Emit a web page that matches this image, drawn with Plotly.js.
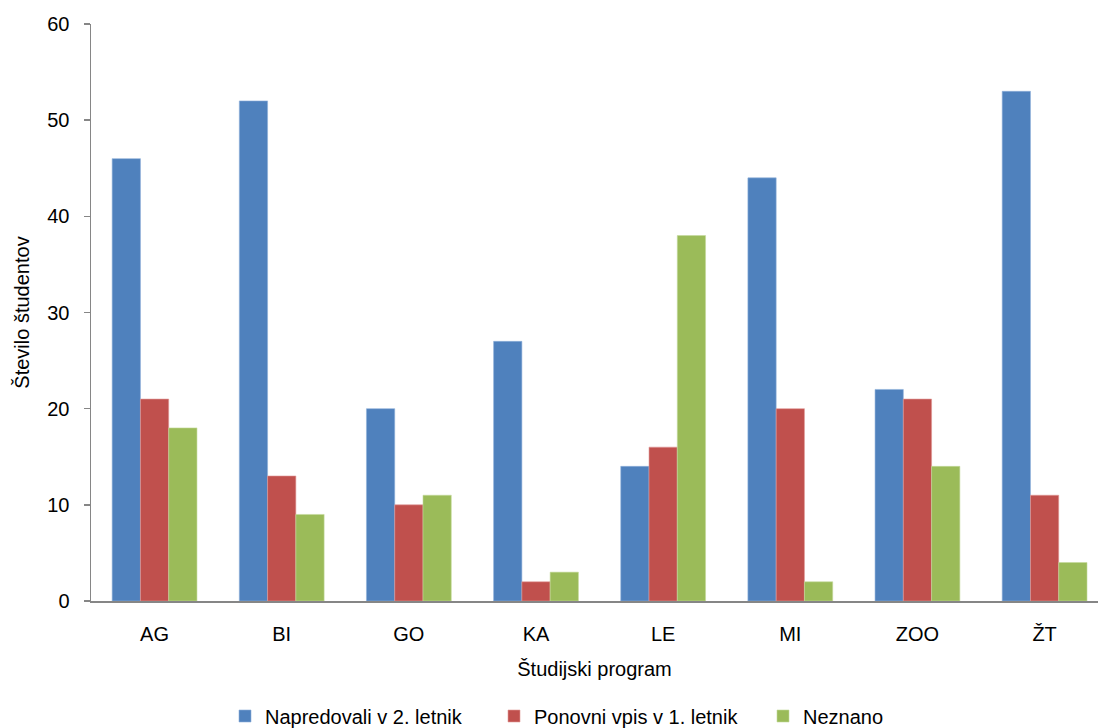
<!DOCTYPE html>
<html>
<head>
<meta charset="utf-8">
<script src="https://cdn.plot.ly/plotly-3.0.1.min.js"></script>
<style>html,body{margin:0;padding:0;background:#fff;}#chart{width:1098px;height:728px;}</style>
</head>
<body>
<div id="chart"></div>
<script>
const categories = ["AG", "BI", "GO", "KA", "LE", "MI", "ZOO", "ŽT"];
const seriesNames = ["Napredovali v 2. letnik", "Ponovni vpis v 1. letnik", "Neznano"];
const napredovali = [46, 52, 20, 27, 14, 44, 22, 53];
const ponovniVpis = [21, 13, 10, 2, 16, 20, 21, 11];
const neznano = [18, 9, 11, 3, 38, 2, 14, 4];
const yTicks = [0, 10, 20, 30, 40, 50, 60];

const colors = ["#4F81BD", "#C0504D", "#9BBB59"];
const edge = ["#8FB0DA", "#E09A98", "#C5DA9C"];
const values = [napredovali, ponovniVpis, neznano];

const font = "Liberation Sans, Arial, sans-serif";
const traces = values.map((v, i) => ({
  type: "bar",
  name: seriesNames[i],
  x: categories,
  y: v,
  marker: {color: colors[i], line: {color: edge[i], width: 0.6}},
  hoverinfo: "x+y+name"
}));

const layout = {
  width: 1098, height: 728,
  margin: {l: 91, r: 0, t: 24, b: 127},
  paper_bgcolor: "#fff", plot_bgcolor: "#fff",
  barmode: "group", bargap: 0.333, bargroupgap: 0,
  font: {family: font, size: 20, color: "#000"},
  showlegend: true,
  legend: {orientation: "h", xref: "container", yref: "container",
           x: 225 / 1098, xanchor: "left", y: 12 / 728, yanchor: "middle",
           entrywidth: 224, entrywidthmode: "pixels",
           font: {family: font, size: 20, color: "#000"}, itemwidth: 30, tracegroupgap: 0},
  xaxis: {
    type: "category", range: [-0.5, 7.42], showline: true, linecolor: "#868686", linewidth: 1.5,
    ticks: "", showgrid: false, zeroline: false, ticklabelstandoff: 14,
    tickfont: {family: font, size: 20, color: "#000"},
    title: {text: "Študijski program", font: {family: font, size: 20, color: "#000"}, standoff: 18}
  },
  yaxis: {
    range: [0, 60], tickvals: yTicks, ticktext: yTicks.map(String),
    showline: true, linecolor: "#868686", linewidth: 1.5,
    ticks: "outside", ticklen: 6, tickcolor: "#868686", tickwidth: 1.5,
    showgrid: false, zeroline: false, ticklabelstandoff: 10,
    tickfont: {family: font, size: 20, color: "#000"},
    title: {text: "Število študentov", font: {family: font, size: 20, color: "#000"}, standoff: 12}
  }
};

Plotly.newPlot("chart", traces, layout, {displayModeBar: false, staticPlot: true});
</script>
</body>
</html>
